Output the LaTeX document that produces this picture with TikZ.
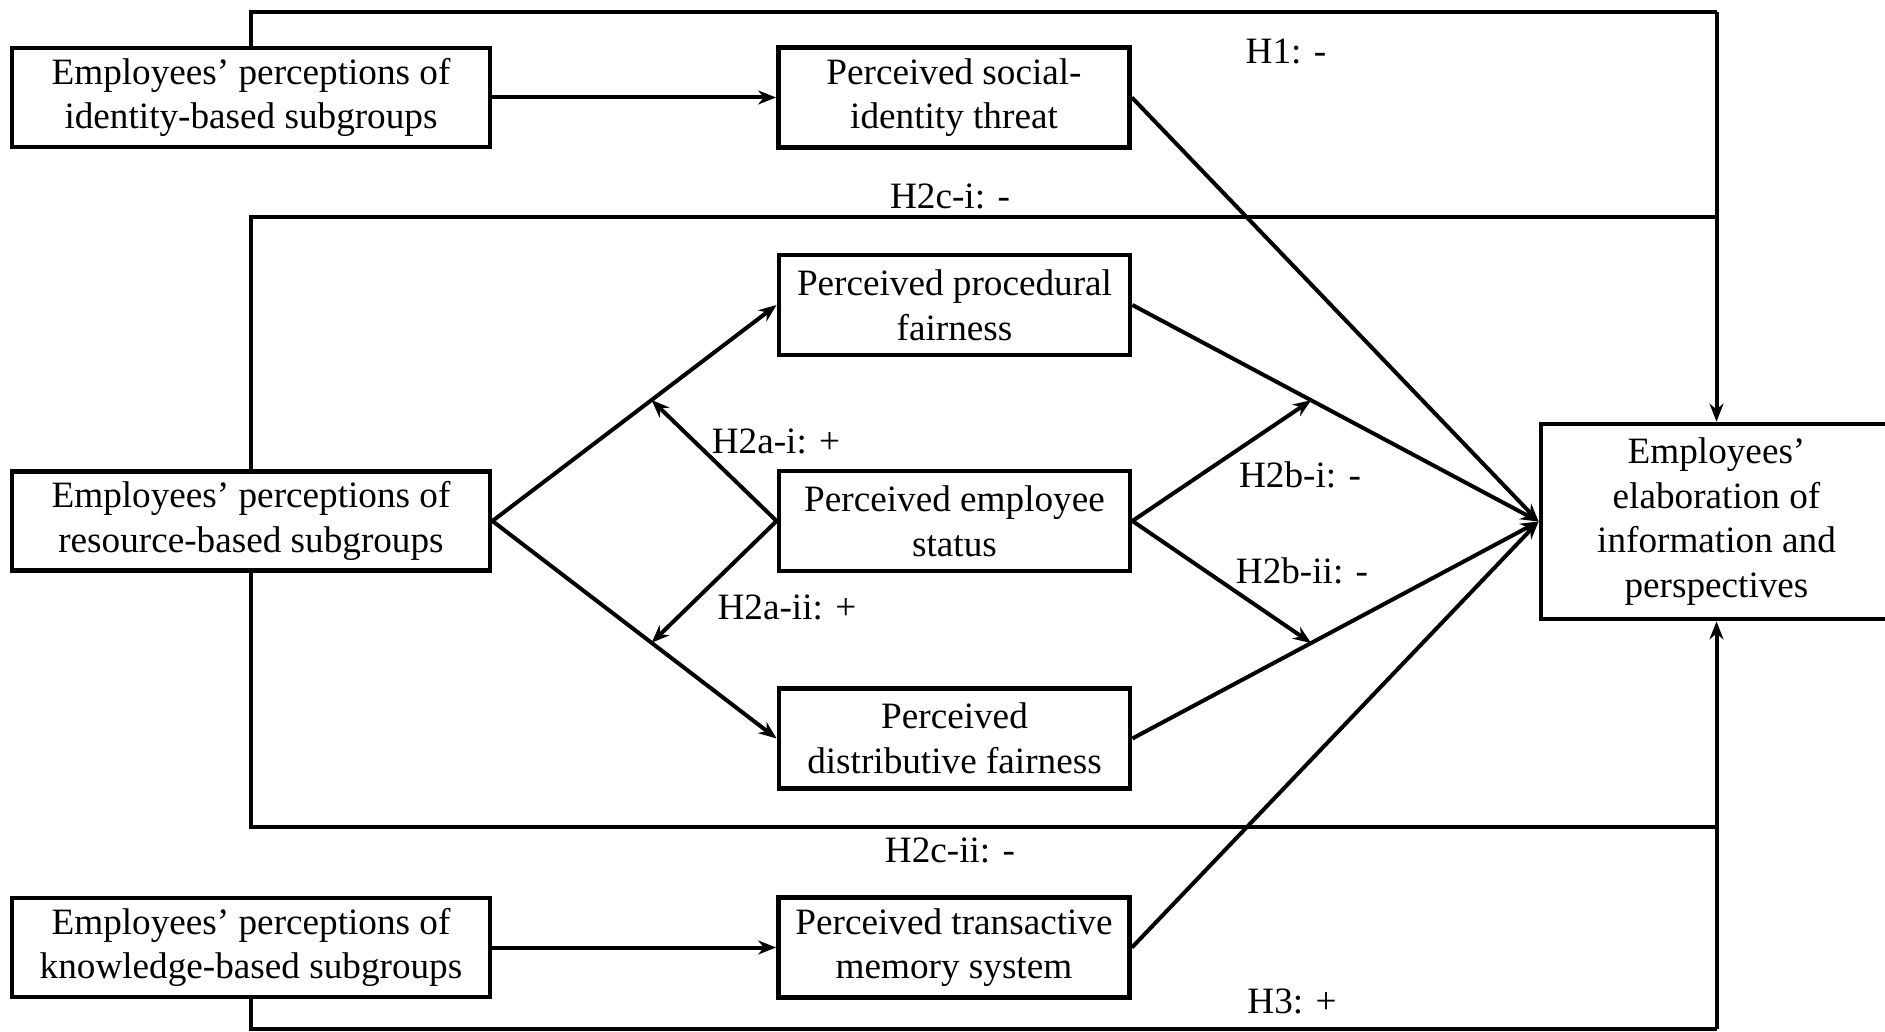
\documentclass[tikz,border=0pt]{standalone}
\usepackage{fontspec}
\setmainfont{Liberation Serif}
\usetikzlibrary{arrows.meta,calc}
\begin{document}
\begin{tikzpicture}[x=0.5pt,y=-0.5pt,
  txt/.style={font=\fontsize{18.6}{22.3}\selectfont},
  box/.style={txt,draw,line width=2.4pt,align=center,inner sep=0pt},
  widebox/.style={box,minimum width=239pt,minimum height=49.5pt},
  midbox/.style={box,minimum width=175.5pt,minimum height=50pt},
  lab/.style={txt,inner sep=0pt},
  link/.style={line width=2pt},
  arr/.style={link,-{Stealth[length=9pt,width=7pt]}}]
\useasboundingbox (0,0) rectangle (1885,1032);
\clip (0,0) rectangle (1885,1032);

% antecedents
\node[widebox] (A) at (251,97.5) {Employees’ perceptions of\\identity-based subgroups};
\node[widebox] (C) at (251,521) {Employees’ perceptions of\\resource-based subgroups};
\node[widebox] (K) at (251,947.5) {Employees’ perceptions of\\knowledge-based subgroups};

% mediators
\node[midbox] (B) at (954,97.5) {Perceived social-\\identity threat};
\node[midbox] (P) at (954.5,305) {Perceived procedural\\fairness};
\node[midbox] (S) at (954.5,521) {Perceived employee\\status};
\node[midbox] (D) at (954.5,738.5) {Perceived\\distributive fairness};
\node[midbox] (T) at (954,947.5) {Perceived transactive\\memory system};

% outcome
\node[box,minimum width=175.5pt,minimum height=97.5pt] (E) at (1716.5,521.5)
  {Employees’\\elaboration of\\information and\\perspectives};

% direct paths around the model
\coordinate (tl) at (251,12);
\coordinate (tr) at (1716.5,12);
\coordinate (ml) at (251,217.5);
\coordinate (mr) at (1716.5,217.5);
\coordinate (nl) at (251,827);
\coordinate (nr) at (1716.5,827);
\coordinate (bl) at (251,1029);
\coordinate (br) at (1716.5,1029);

\draw[link] (A.north) -- (tl) -- (tr);
\draw[arr] (tr) -- (E.north);
\draw[link] (C.north) -- (ml) -- (mr);
\draw[link] (C.south) -- (nl) -- (nr);
\draw[link] (K.south) -- (bl) -- (br);
\draw[arr] (br) -- (E.south);

% antecedent to mediator
\draw[arr] (A.east) -- (B.west);
\draw[arr] (K.east) -- (T.west);
\draw[arr] (C.east) -- (P.west);
\draw[arr] (C.east) -- (D.west);

% mediator to outcome
\draw[arr] (B.east) -- (E.west);
\draw[arr] (P.east) -- (E.west);
\draw[arr] (D.east) -- (E.west);
\draw[arr] (T.east) -- (E.west);

% moderation by status
\coordinate (mP) at ($(C.east)!0.56!(P.west)$);
\coordinate (mD) at ($(C.east)!0.56!(D.west)$);
\coordinate (nP) at ($(P.east)!0.44!(E.west)$);
\coordinate (nD) at ($(D.east)!0.44!(E.west)$);
\draw[arr] (S.west) -- (mP);
\draw[arr] (S.west) -- (mD);
\draw[arr] (S.east) -- (nP);
\draw[arr] (S.east) -- (nD);

% hypothesis labels
\node[lab] (h1) at (1286,51) {H1: -};
\node[lab] (h2ci) at (950,196) {H2c-i: -};
\node[lab] (h2ai) at (776,441) {H2a-i: +};
\node[lab] (h2aii) at (787,607) {H2a-ii: +};
\node[lab] (h2bi) at (1300,475) {H2b-i: -};
\node[lab] (h2bii) at (1302,571) {H2b-ii: -};
\node[lab] (h2cii) at (950,850) {H2c-ii: -};
\node[lab] (h3) at (1292,1001) {H3: +};
\end{tikzpicture}
\end{document}
